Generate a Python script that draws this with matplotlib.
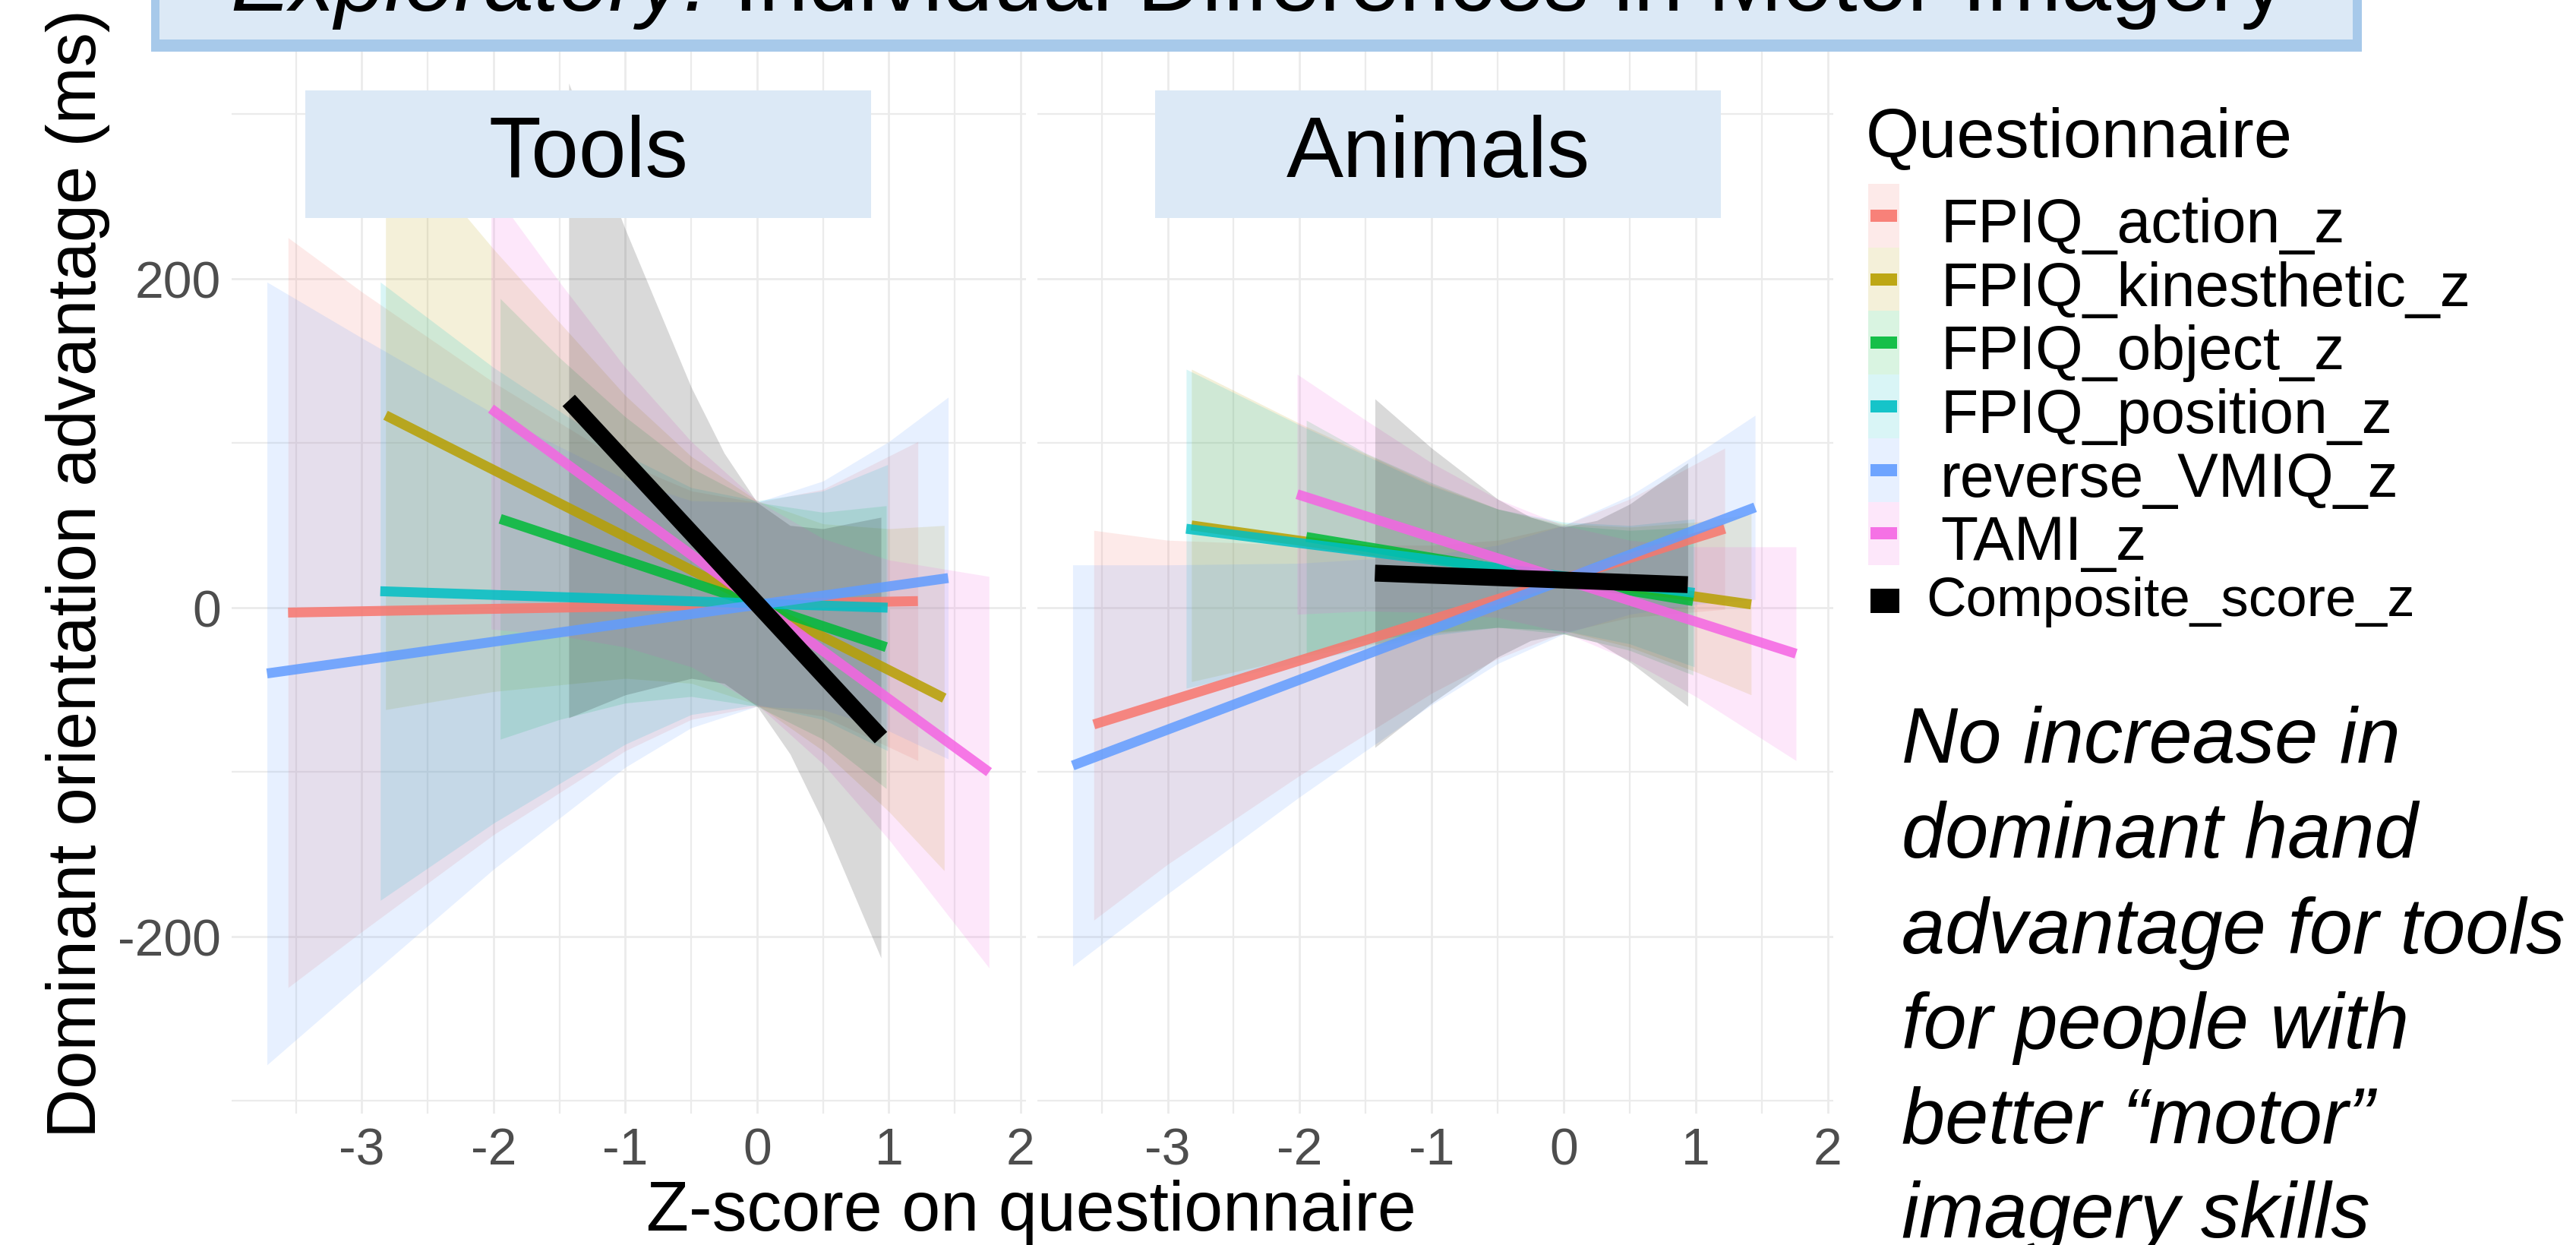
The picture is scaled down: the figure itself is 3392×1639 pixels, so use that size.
import matplotlib
matplotlib.use('Agg')
import matplotlib.pyplot as plt
from matplotlib.patches import Rectangle

plt.rcParams['font.family'] = ['Liberation Sans', 'DejaVu Sans']

W, H = 3392, 1640

# questionnaires in legend order, composite last
questionnaires = ['FPIQ_action_z', 'FPIQ_kinesthetic_z', 'FPIQ_object_z', 'FPIQ_position_z',
                  'reverse_VMIQ_z', 'TAMI_z', 'Composite_score_z']

# x range of each fitted line (z-score)
x_start = [-3.56, -2.82, -1.95, -2.86, -3.72, -2.02, -1.43]
x_end = [1.22, 1.42, 0.98, 0.99, 1.45, 1.76, 0.94]

# fitted values at the two ends (ms)
tools_fit_start = [-3, 117, 54, 10, -40, 121, 126]
tools_fit_end = [4, -55, -24, 0, 18, -100, -79]
animals_fit_start = [-71, 50, 43, 48, -96, 69, 21]
animals_fit_end = [48, 2, 4, 9, 61, -28, 14]

# confidence bands, read at a few x positions
band_x = [
    [-3.56, -3, -2, -1, -0.5, 0, 0.5, 1.22],
    [-2.82, -2, -1, -0.5, 0, 0.5, 1, 1.42],
    [-1.95, -1.5, -1, -0.5, 0, 0.5, 0.98],
    [-2.86, -2, -1, -0.5, 0, 0.5, 0.99],
    [-3.72, -3, -2, -1, -0.5, 0, 0.5, 1, 1.45],
    [-2.02, -1.5, -1, -0.5, 0, 0.5, 1, 1.76],
    [-1.43, -1, -0.5, -0.25, 0, 0.25, 0.5, 0.94],
]
tools_hi = [
    [225, 192, 137, 88, 71, 64, 72, 101],
    [296, 218, 129, 92, 65, 51, 48, 50],
    [188, 152, 116, 85, 64, 58, 62],
    [198, 146, 93, 73, 65, 71, 87],
    [198, 164, 118, 78, 65, 64, 77, 101, 128],
    [255, 198, 146, 101, 65, 42, 29, 19],
    [319, 230, 134, 94, 64, 50, 48, 55],
]
tools_lo = [
    [-231, -197, -138, -87, -68, -60, -66, -93],
    [-62, -51, -43, -46, -59, -87, -124, -160],
    [-80, -68, -58, -54, -60, -80, -110],
    [-178, -131, -83, -65, -59, -68, -87],
    [-278, -228, -159, -97, -73, -60, -62, -75, -92],
    [-13, -17, -24, -36, -59, -95, -141, -219],
    [-67, -53, -43, -46, -60, -89, -130, -213],
]
animals_hi = [
    [47, 41, 38, 38, 41, 50, 66, 97],
    [145, 112, 75, 60, 51, 49, 52, 57],
    [114, 94, 76, 60, 50, 47, 49],
    [145, 111, 74, 60, 52, 50, 54],
    [26, 26, 27, 32, 38, 50, 68, 93, 117],
    [142, 114, 88, 66, 50, 41, 37, 37],
    [127, 97, 66, 55, 49, 53, 63, 88],
]
animals_lo = [
    [-190, -156, -102, -52, -31, -15, -6, -1],
    [-45, -30, -16, -12, -14, -24, -39, -53],
    [-28, -20, -15, -12, -16, -26, -41],
    [-49, -33, -17, -12, -14, -22, -36],
    [-218, -174, -115, -59, -34, -16, -4, 2, 5],
    [-4, -2, -3, -6, -15, -32, -54, -93],
    [-85, -58, -30, -20, -16, -21, -33, -60],
]

x_ticks = [-3, -2, -1, 0, 1, 2]
x_tick_labels = ['-3', '-2', '-1', '0', '1', '2']
y_ticks = [-200, 0, 200]
y_tick_labels = ['-200', '0', '200']

note_lines = ['No increase in', 'dominant hand', 'advantage for tools',
              'for people with', 'better \u201cmotor\u201d', 'imagery skills']

palette = ['#F8766D', '#B79F00', '#00BA38', '#00BFC4', '#619CFF', '#F564E3', '#000000']
strip_blue = '#DCE9F6'
border_blue = '#A7C9EA'


def fx(px):
    return px / W


def fy(py):
    return 1 - py / H


def draw_panel(ax, fit_start, fit_end, hi, lo, show_y):
    ax.set_xlim(-3.99, 2.04)
    ax.set_ylim(-307.5, 349)
    for s in ax.spines.values():
        s.set_visible(False)
    ax.set_xticks(x_ticks)
    ax.set_xticklabels(x_tick_labels)
    ax.set_xticks([-3.5, -2.5, -1.5, -0.5, 0.5, 1.5], minor=True)
    ax.set_yticks(y_ticks)
    ax.set_yticklabels(y_tick_labels)
    ax.set_yticks([-300, -100, 100, 300], minor=True)
    ax.grid(which='major', color='#EBEBEB', lw=2.0)
    ax.grid(which='minor', color='#EBEBEB', lw=1.6)
    ax.set_axisbelow(True)
    ax.tick_params(which='both', length=0, labelsize=49, labelcolor='#4D4D4D')
    ax.tick_params(axis='x', pad=12)
    ax.tick_params(axis='y', pad=10, labelleft=show_y)

    for i in range(len(questionnaires)):
        ax.fill_between(band_x[i], lo[i], hi[i], color=palette[i], alpha=0.15, lw=0, zorder=2)
    for i in range(len(questionnaires)):
        lw = 16 if i == 6 else 9.4
        a = 1.0 if i == 6 else 0.85
        ax.plot([x_start[i], x_end[i]], [fit_start[i], fit_end[i]], color=palette[i],
                lw=lw, alpha=a, solid_capstyle='butt', zorder=3)


fig = plt.figure(figsize=(W / 100, H / 100), dpi=100)

ax_tools = fig.add_axes([0.08983, 0.10567, 0.30843, 0.86665])
ax_animals = fig.add_axes([0.40257, 0.10567, 0.30899, 0.86665])
draw_panel(ax_tools, tools_fit_start, tools_fit_end, tools_hi, tools_lo, True)
draw_panel(ax_animals, animals_fit_start, animals_fit_end, animals_hi, animals_lo, False)

# strips
for label, x0, x1 in [('Tools', 402, 1147), ('Animals', 1521, 2266)]:
    fig.add_artist(Rectangle((fx(x0), fy(288)), fx(x1 - x0), (288 - 120) / H,
                             transform=fig.transFigure, color=strip_blue, lw=0, zorder=5))
    fig.text(fx((x0 + x1) / 2), fy(204), label, ha='center', va='center', fontsize=81, zorder=6)

# title box (cut at top of slide)
fig.add_artist(Rectangle((fx(199), fy(69)), fx(3110 - 199), 100 / H,
                         transform=fig.transFigure, color=border_blue, lw=0, zorder=5))
fig.add_artist(Rectangle((fx(210), fy(53)), fx(3098 - 210), 100 / H,
                         transform=fig.transFigure, color=strip_blue, lw=0, zorder=5))
t1 = fig.text(fx(303), fy(14), 'Exploratory:', style='italic', fontsize=85,
              ha='left', va='baseline', zorder=6)
renderer = fig.canvas.get_renderer()
bb = t1.get_window_extent(renderer)
fig.text((bb.x1 + 33) / W, fy(14), 'Individual Differences in Motor Imagery', fontsize=85,
         ha='left', va='baseline', zorder=6)

# axis titles
fig.text(fx(103), fy(755), 'Dominant orientation advantage (ms)', rotation=90,
         ha='center', va='center', fontsize=65)
fig.text(fx(1358), fy(1620), 'Z-score on questionnaire', ha='center', va='baseline', fontsize=66)

# legend
fig.text(fx(2457), fy(207), 'Questionnaire', ha='left', va='baseline', fontsize=65)
cell = 83.7
for i in range(6):
    top = 243 + i * cell
    fig.add_artist(Rectangle((fx(2460), fy(top + cell)), fx(41), cell / H,
                             transform=fig.transFigure, color=palette[i], alpha=0.15, lw=0))
    cy = top + cell / 2
    fig.add_artist(Rectangle((fx(2463), fy(cy + 8)), fx(35), 16 / H,
                             transform=fig.transFigure, color=palette[i], alpha=0.9, lw=0))
    fig.text(fx(2555), fy(cy + 34), questionnaires[i], ha='left', va='baseline', fontsize=58)
fig.add_artist(Rectangle((fx(2463), fy(808)), fx(38), 32 / H,
                         transform=fig.transFigure, color=palette[6], lw=0))
fig.text(fx(2536), fy(811), questionnaires[6], ha='left', va='baseline', fontsize=52.5)

# side note
baselines = [1004, 1129, 1255, 1380, 1504, 1629]
for line, yb in zip(note_lines, baselines):
    fig.text(fx(2504), fy(yb), line, style='italic', ha='left', va='baseline', fontsize=74)

fig.savefig('out.png', dpi=100)
